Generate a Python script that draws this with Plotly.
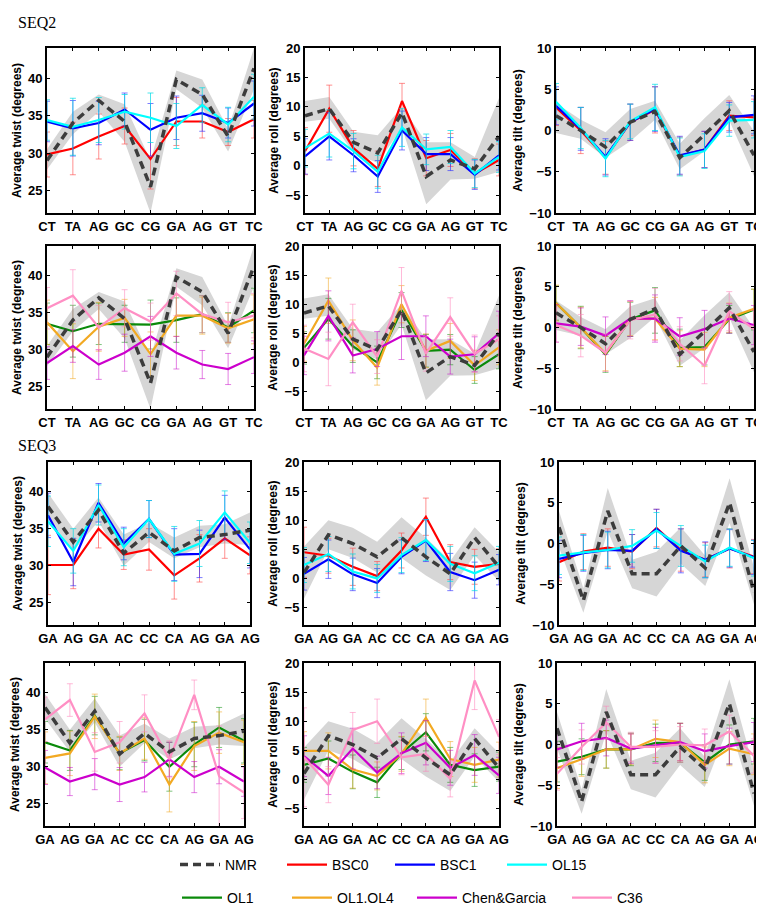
import plotly.graph_objects as go

# ---------------- categories ----------------
seq2_steps = ["CT", "TA", "AG", "GC", "CG", "GA", "AG", "GT", "TC"]
seq3_steps = ["GA", "AG", "GA", "AC", "CC", "CA", "AG", "GA", "AG"]

# ---------------- NMR reference (value, band low, band high) ----------------
nmr_seq2_twist = [29.0, 34.0, 37.0, 34.2, 25.5, 39.8, 37.8, 32.2, 41.3]
nmr_seq2_twist_lo = [27.8, 32.5, 35.5, 31.5, 22.0, 38.5, 36.0, 30.2, 38.5]
nmr_seq2_twist_hi = [30.5, 35.5, 37.8, 36.5, 29.0, 41.0, 39.8, 33.2, 44.0]
nmr_seq2_roll = [8.5, 9.7, 4.0, 2.2, 9.0, -1.8, 1.0, -0.5, 5.0]
nmr_seq2_roll_lo = [7.5, 8.0, 2.2, 0.5, 6.5, -6.5, -2.3, -2.2, -1.0]
nmr_seq2_roll_hi = [11.0, 11.7, 5.8, 5.2, 10.0, 4.0, 4.0, 1.5, 11.5]
nmr_seq2_tilt = [1.8, 0.0, -2.0, 1.0, 2.3, -3.3, -0.5, 2.4, -3.0]
nmr_seq2_tilt_lo = [-0.3, -1.0, -3.3, -1.3, 1.3, -4.7, -2.5, 1.2, -5.5]
nmr_seq2_tilt_hi = [3.3, 1.3, -0.2, 2.6, 3.6, -1.6, 1.5, 4.3, -0.1]

nmr_seq3_twist = [38.0, 33.2, 37.5, 31.7, 34.5, 32.0, 33.8, 34.2, 34.8]
nmr_seq3_twist_lo = [36.5, 32.0, 36.0, 30.0, 33.2, 31.0, 32.5, 33.0, 32.8]
nmr_seq3_twist_hi = [39.8, 35.0, 39.2, 34.2, 35.8, 33.8, 35.4, 35.6, 37.2]
nmr_seq3_roll = [1.0, 7.5, 6.0, 3.7, 7.0, 3.7, 0.8, 7.0, 2.0]
nmr_seq3_roll_lo = [-3.5, 5.0, 3.5, 1.0, 3.5, 0.5, -2.0, 4.0, -0.5]
nmr_seq3_roll_hi = [5.5, 10.0, 8.7, 6.3, 10.5, 7.0, 3.0, 8.8, 4.5]
nmr_seq3_tilt = [2.0, -7.0, 4.0, -3.7, -3.7, -0.3, -3.0, 5.0, -6.0]
nmr_seq3_tilt_lo = [-0.5, -8.5, 1.5, -5.5, -6.5, -2.5, -5.2, 2.5, -7.5]
nmr_seq3_tilt_hi = [4.0, -5.5, 6.8, -2.0, -1.0, 2.0, -1.5, 8.0, -3.0]

# ---------------- SEQ2, first force-field group ----------------
bsc0_seq2_twist = [29.8, 30.6, 32.2, 33.6, 29.2, 34.2, 34.2, 32.8, 34.5]
bsc0_seq2_twist_err = [3.0, 3.5, 3.0, 2.4, 4.0, 3.2, 2.2, 1.8, 2.5]
bsc1_seq2_twist = [34.2, 33.3, 34.0, 35.8, 33.1, 34.7, 35.3, 34.0, 36.6]
bsc1_seq2_twist_err = [2.7, 3.7, 2.9, 2.2, 3.5, 2.9, 2.4, 2.0, 3.0]
ol15_seq2_twist = [34.4, 33.5, 34.4, 35.5, 34.7, 33.6, 36.4, 33.8, 37.5]
ol15_seq2_twist_err = [2.7, 3.8, 3.0, 2.3, 3.3, 3.0, 2.3, 2.3, 3.0]

bsc0_seq2_roll = [2.5, 9.7, 3.0, -0.5, 11.0, 1.3, 2.7, -1.3, 1.0]
bsc0_seq2_roll_err = [4.0, 4.0, 3.0, 3.0, 3.0, 3.0, 2.8, 2.5, 2.7]
bsc1_seq2_roll = [1.6, 5.0, 1.8, -1.8, 6.0, 2.0, 2.0, -1.5, 1.8]
bsc1_seq2_roll_err = [3.0, 4.0, 2.8, 2.7, 3.3, 2.8, 2.8, 2.5, 2.5]
ol15_seq2_roll = [3.0, 5.5, 2.5, -1.0, 6.5, 2.8, 3.2, -1.3, 1.5]
ol15_seq2_roll_err = [3.2, 4.0, 3.0, 2.8, 3.2, 2.6, 2.8, 2.4, 2.6]

bsc0_seq2_tilt = [2.8, 0.0, -3.3, 1.0, 2.5, -3.1, -2.3, 1.8, 1.6]
bsc0_seq2_tilt_err = [2.2, 2.8, 2.0, 2.2, 2.8, 2.3, 2.2, 1.8, 2.2]
bsc1_seq2_tilt = [3.0, 0.2, -3.2, 1.0, 2.6, -3.0, -2.3, 1.6, 1.9]
bsc1_seq2_tilt_err = [2.3, 2.6, 2.2, 2.2, 2.7, 2.3, 2.2, 1.8, 2.3]
ol15_seq2_tilt = [3.5, 0.3, -3.4, 1.1, 2.8, -3.2, -2.5, 1.2, 1.3]
ol15_seq2_tilt_err = [2.2, 2.5, 2.2, 2.1, 2.8, 2.3, 2.1, 1.9, 2.2]

# ---------------- SEQ2, second force-field group ----------------
ol1_seq2_twist = [33.5, 32.5, 33.5, 33.5, 33.4, 34.0, 34.8, 33.0, 35.3]
ol1_seq2_twist_err = [2.8, 3.5, 2.8, 2.5, 3.3, 3.0, 2.5, 2.0, 3.0]
ol14_seq2_twist = [33.7, 29.8, 33.1, 34.3, 29.4, 34.6, 34.6, 32.9, 34.1]
ol14_seq2_twist_err = [3.0, 3.7, 3.3, 2.5, 3.0, 2.8, 2.5, 2.0, 3.3]
chen_seq2_twist = [28.2, 30.5, 28.0, 29.6, 31.8, 29.6, 28.0, 27.4, 29.0]
chen_seq2_twist_err = [2.2, 2.2, 2.0, 2.5, 2.7, 2.2, 1.9, 2.1, 2.2]
c36_seq2_twist = [35.6, 37.3, 33.0, 35.6, 33.8, 37.6, 34.8, 33.7, 34.6]
c36_seq2_twist_err = [2.8, 3.5, 3.0, 2.5, 2.5, 3.0, 2.5, 2.7, 3.0]

ol1_seq2_roll = [2.5, 7.5, 2.8, 0.0, 9.0, 2.0, 2.2, -1.3, 1.4]
ol1_seq2_roll_err = [2.8, 3.5, 2.8, 2.8, 3.0, 2.8, 2.6, 2.3, 2.5]
ol14_seq2_roll = [3.2, 10.6, 3.8, -0.9, 10.0, 2.0, 3.7, -0.5, 2.6]
ol14_seq2_roll_err = [3.0, 3.9, 3.5, 3.0, 3.2, 2.9, 3.0, 2.6, 3.0]
chen_seq2_roll = [1.2, 8.0, 1.2, 2.3, 4.5, 4.5, 1.0, 1.4, 5.0]
chen_seq2_roll_err = [3.3, 4.3, 3.0, 3.0, 4.0, 3.5, 3.0, 3.0, 3.8]
c36_seq2_roll = [2.4, 0.6, 6.9, 1.0, 12.3, 1.5, 7.8, 1.5, 4.0]
c36_seq2_roll_err = [4.0, 4.6, 3.1, 2.9, 4.0, 3.0, 3.3, 3.2, 4.0]

ol1_seq2_tilt = [3.0, 0.0, -3.3, 1.0, 2.1, -2.5, -2.4, 1.0, 2.2]
ol1_seq2_tilt_err = [2.1, 2.6, 2.2, 2.1, 2.8, 2.3, 2.2, 1.7, 2.5]
ol14_seq2_tilt = [3.0, 0.0, -3.2, 1.1, 1.1, -2.6, -2.7, 1.2, 2.3]
ol14_seq2_tilt_err = [2.2, 2.5, 2.1, 2.1, 2.6, 2.2, 2.1, 1.8, 2.4]
chen_seq2_tilt = [0.5, 0.1, -1.0, 1.1, 1.1, -1.1, -0.2, 1.1, 0.3]
chen_seq2_tilt_err = [2.3, 2.3, 2.3, 2.2, 2.9, 2.3, 2.3, 1.8, 2.4]
c36_seq2_tilt = [0.3, -1.0, -3.1, 0.9, 1.6, -2.0, -4.7, 2.0, -0.2]
c36_seq2_tilt_err = [2.1, 2.6, 2.3, 2.3, 3.2, 2.1, 2.2, 2.4, 2.3]

# ---------------- SEQ3, first force-field group ----------------
bsc0_seq3_twist = [30.1, 30.1, 35.0, 31.5, 32.2, 28.7, 31.0, 33.7, 31.4]
bsc0_seq3_twist_err = [4.0, 3.2, 2.6, 2.0, 2.8, 3.2, 3.2, 2.7, 2.5]
bsc1_seq3_twist = [36.8, 30.5, 38.5, 33.0, 36.3, 31.5, 31.6, 36.5, 32.2]
bsc1_seq3_twist_err = [3.0, 3.2, 2.6, 2.2, 2.5, 3.5, 3.2, 3.0, 2.5]
ol15_seq3_twist = [36.0, 32.0, 38.2, 32.5, 36.3, 31.6, 33.0, 37.2, 33.1]
ol15_seq3_twist_err = [3.4, 3.0, 2.7, 2.5, 2.5, 3.7, 3.1, 2.9, 2.8]

bsc0_seq3_roll = [4.5, 3.9, 2.0, 0.4, 4.8, 10.6, 2.8, 2.0, 2.5]
bsc0_seq3_roll_err = [4.3, 3.0, 3.2, 2.5, 3.0, 3.2, 3.0, 3.0, 2.6]
bsc1_seq3_roll = [0.8, 3.3, 0.7, -0.8, 3.7, 6.5, 1.1, -0.3, 1.5]
bsc1_seq3_roll_err = [2.8, 3.3, 2.8, 2.5, 2.9, 3.6, 3.2, 3.1, 2.6]
ol15_seq3_roll = [2.3, 4.2, 1.2, 0.0, 4.0, 6.6, 2.5, 0.9, 2.7]
ol15_seq3_roll_err = [3.0, 3.0, 3.0, 2.4, 3.0, 3.5, 3.0, 3.0, 2.8]

bsc0_seq3_tilt = [-2.3, -1.0, -0.5, -1.0, 1.9, -0.8, -2.0, -0.6, -1.6]
bsc0_seq3_tilt_err = [2.3, 2.2, 2.3, 2.1, 2.3, 2.6, 2.1, 2.4, 2.1]
bsc1_seq3_tilt = [-1.9, -1.2, -0.8, -0.9, 1.8, -0.9, -2.0, -0.6, -1.7]
bsc1_seq3_tilt_err = [2.3, 2.2, 2.3, 2.0, 2.4, 2.7, 2.2, 2.3, 2.1]
ol15_seq3_tilt = [-1.5, -1.1, -0.8, -0.3, 1.6, -0.3, -2.2, -0.5, -1.8]
ol15_seq3_tilt_err = [2.3, 2.2, 2.2, 2.0, 2.2, 2.5, 2.0, 2.3, 2.2]

# ---------------- SEQ3, second force-field group ----------------
ol1_seq3_twist = [33.3, 32.2, 36.9, 31.8, 33.6, 30.0, 33.0, 35.3, 33.5]
ol1_seq3_twist_err = [2.8, 2.7, 2.6, 2.2, 2.8, 3.3, 3.0, 2.7, 3.0]
ol14_seq3_twist = [31.2, 31.8, 36.8, 31.8, 33.8, 27.6, 32.8, 34.6, 33.3]
ol14_seq3_twist_err = [3.5, 3.0, 3.0, 2.3, 2.8, 3.7, 3.3, 2.8, 3.0]
chen_seq3_twist = [29.9, 28.0, 29.0, 27.6, 28.6, 31.0, 28.6, 30.0, 28.0]
chen_seq3_twist_err = [2.3, 1.9, 2.1, 2.3, 2.0, 2.3, 2.1, 2.3, 2.0]
c36_seq3_twist = [36.4, 39.0, 32.0, 33.3, 37.2, 31.0, 39.7, 28.7, 26.5]
c36_seq3_twist_err = [3.0, 2.2, 2.6, 2.8, 2.5, 2.5, 2.0, 6.8, 3.5]

ol1_seq3_roll = [2.5, 3.6, 1.3, -0.5, 4.5, 8.1, 2.5, 1.6, 2.2]
ol1_seq3_roll_err = [3.0, 3.0, 2.9, 2.6, 2.8, 3.2, 3.0, 2.8, 2.5]
ol14_seq3_roll = [4.9, 4.9, 1.7, 0.6, 4.4, 10.6, 3.5, 2.5, 3.4]
ol14_seq3_roll_err = [3.3, 3.1, 3.2, 2.4, 3.0, 3.2, 3.0, 3.0, 3.0]
chen_seq3_roll = [4.0, 0.6, 5.3, 1.2, 4.5, 6.3, 2.0, 4.2, 0.7]
chen_seq3_roll_err = [3.5, 3.2, 3.5, 2.8, 3.5, 3.8, 3.0, 3.5, 3.1]
c36_seq3_roll = [3.8, -0.9, 8.5, 10.0, 3.8, 4.4, 0.1, 17.0, 7.3]
c36_seq3_roll_err = [8.5, 3.1, 3.0, 3.8, 3.0, 3.0, 3.1, 5.0, 3.0]

ol1_seq3_tilt = [-2.1, -1.5, -0.6, -0.6, 0.2, 0.2, -2.2, 0.0, 0.4]
ol1_seq3_tilt_err = [2.5, 2.2, 2.3, 2.0, 2.3, 2.4, 2.2, 2.4, 2.8]
ol14_seq3_tilt = [-2.9, -1.8, -0.6, -0.6, 0.7, 0.3, -2.5, -0.5, -1.2]
ol14_seq3_tilt_err = [2.5, 2.1, 2.3, 1.9, 2.3, 2.3, 2.2, 2.1, 2.5]
chen_seq3_tilt = [-0.6, 0.4, 0.8, -0.5, -0.1, 0.3, -0.8, -0.2, 0.3]
chen_seq3_tilt_err = [2.2, 2.2, 2.2, 1.8, 2.2, 2.3, 2.1, 2.2, 2.4]
c36_seq3_tilt = [-3.6, -0.3, 2.7, -0.3, -0.3, 0.0, -0.1, 1.6, -1.4]
c36_seq3_tilt_err = [2.0, 2.1, 2.0, 1.8, 2.0, 2.2, 2.0, 2.0, 2.1]

# ---------------- assemble ----------------
D = dict(globals())

series_names = ["NMR", "BSC0", "BSC1", "OL15", "OL1", "OL1.OL4", "Chen&Garcia", "C36"]
prefix = {"BSC0": "bsc0", "BSC1": "bsc1", "OL15": "ol15", "OL1": "ol1",
          "OL1.OL4": "ol14", "Chen&Garcia": "chen", "C36": "c36"}
line_color = {"BSC0": "#ff0000", "BSC1": "#0000ff", "OL15": "#00ffff",
              "OL1": "#0a8a0a", "OL1.OL4": "#f2a922", "Chen&Garcia": "#cc00cc",
              "C36": "#ff8fc4"}
err_color = {"BSC0": "rgba(255,70,70,0.6)", "BSC1": "rgba(40,40,255,0.6)",
             "OL15": "rgba(0,220,230,0.7)", "OL1": "rgba(0,140,0,0.5)",
             "OL1.OL4": "rgba(240,165,30,0.55)", "Chen&Garcia": "rgba(200,0,200,0.5)",
             "C36": "rgba(255,130,185,0.55)"}

params = ["twist", "roll", "tilt"]
ytitles = {"twist": "Average twist (degrees)", "roll": "Average roll (degrees)",
           "tilt": "Average tilt (degrees)"}
yranges = {"twist": [22, 44], "roll": [-8, 20], "tilt": [-10, 10]}
yticks = {"twist": [25, 30, 35, 40], "roll": [-5, 0, 5, 10, 15, 20],
          "tilt": [-10, -5, 0, 5, 10]}

rows = [("seq2", ["BSC0", "BSC1", "OL15"]),
        ("seq2", ["OL1", "OL1.OL4", "Chen&Garcia", "C36"]),
        ("seq3", ["BSC0", "BSC1", "OL15"]),
        ("seq3", ["OL1", "OL1.OL4", "Chen&Garcia", "C36"])]

W, H = 764, 907
row_px = [(40, 205), (238, 401), (454, 617), (655, 818)]
col_px = [[(39, 246), (297, 491), (548, 746)],
          [(39, 246), (296, 491), (548, 746)],
          [(40, 242), (296, 491), (551, 746)],
          [(37, 236), (296, 491), (549, 746)]]

legend_pos = {"NMR": (167, 857), "BSC0": (274, 857), "BSC1": (382, 857), "OL15": (494, 857),
              "OL1": (169, 890), "OL1.OL4": (279, 890), "Chen&Garcia": (404, 890),
              "C36": (559, 890)}
legend_id = {n: ("legend" if i == 0 else "legend%d" % (i + 1)) for i, n in enumerate(series_names)}

fig = go.Figure()
layout = {}
shown = set()
FONT = "Liberation Sans, Arial, sans-serif"

idx = 0
for r, (seq, models) in enumerate(rows):
    steps = D[seq + "_steps"]
    xs = list(range(len(steps)))
    for c, p in enumerate(params):
        idx += 1
        xa = "x" if idx == 1 else "x%d" % idx
        ya = "y" if idx == 1 else "y%d" % idx
        lo = D["nmr_%s_%s_lo" % (seq, p)]
        hi = D["nmr_%s_%s_hi" % (seq, p)]
        fig.add_trace(go.Scatter(x=xs + xs[::-1], y=hi + lo[::-1], fill="toself",
                                 fillcolor="#d6d6d6", line=dict(width=0),
                                 mode="lines", hoverinfo="skip", showlegend=False,
                                 xaxis=xa, yaxis=ya))
        for m in models:
            show = m not in shown
            shown.add(m)
            fig.add_trace(go.Scatter(
                x=xs, y=D["%s_%s_%s" % (prefix[m], seq, p)], mode="lines",
                line=dict(color=line_color[m], width=2.2),
                error_y=dict(type="data", array=D["%s_%s_%s_err" % (prefix[m], seq, p)],
                             color=err_color[m], thickness=1, width=3),
                name=m, showlegend=show, legend=legend_id[m],
                xaxis=xa, yaxis=ya))
        show = "NMR" not in shown
        shown.add("NMR")
        fig.add_trace(go.Scatter(x=xs, y=D["nmr_%s_%s" % (seq, p)], mode="lines",
                                 line=dict(color="#3c3c3c", width=3.5, dash="8px,5px"),
                                 name="NMR", showlegend=show, legend=legend_id["NMR"],
                                 xaxis=xa, yaxis=ya))
        x0, x1 = col_px[r][c]
        y0, y1 = row_px[r]
        layout["xaxis" if idx == 1 else "xaxis%d" % idx] = dict(
            domain=[x0 / W, x1 / W], anchor=ya, range=[0, len(steps) - 1],
            tickvals=xs, ticktext=steps, showline=True, linecolor="black",
            linewidth=2, mirror="ticks", ticks="inside", ticklen=3,
            tickcolor="black", showgrid=False, zeroline=False, automargin=False,
            tickfont=dict(family=FONT, size=13, color="black", weight="bold"))
        layout["yaxis" if idx == 1 else "yaxis%d" % idx] = dict(
            domain=[1 - y1 / H, 1 - y0 / H], anchor=xa, range=yranges[p],
            tickvals=yticks[p], showline=True, linecolor="black", linewidth=2,
            mirror="ticks", ticks="inside", ticklen=3, tickcolor="black",
            showgrid=False, zeroline=False, automargin=False,
            tickfont=dict(family=FONT, size=13, color="black", weight="bold"),
            title=dict(text=ytitles[p], standoff=4,
                       font=dict(family=FONT, size=12, color="black", weight="bold")))

for n in series_names:
    px, py = legend_pos[n]
    layout[legend_id[n]] = dict(x=px / W, y=1 - py / H, xanchor="left", yanchor="middle",
                                orientation="h", bgcolor="rgba(0,0,0,0)",
                                font=dict(family=FONT, size=14, color="black"),
                                itemwidth=40)

fig.update_layout(**layout)
fig.update_layout(
    width=W, height=H, margin=dict(l=0, r=0, t=0, b=0, autoexpand=False),
    plot_bgcolor="white", paper_bgcolor="white", showlegend=True,
    annotations=[
        dict(text="SEQ2", x=8 / W, y=1 - 15 / H, xref="paper", yref="paper",
             xanchor="left", yanchor="middle", showarrow=False,
             font=dict(family="Liberation Serif, serif", size=16, color="black")),
        dict(text="SEQ3", x=8 / W, y=1 - 437 / H, xref="paper", yref="paper",
             xanchor="left", yanchor="middle", showarrow=False,
             font=dict(family="Liberation Serif, serif", size=16, color="black")),
    ])

fig.write_html("out.html")
